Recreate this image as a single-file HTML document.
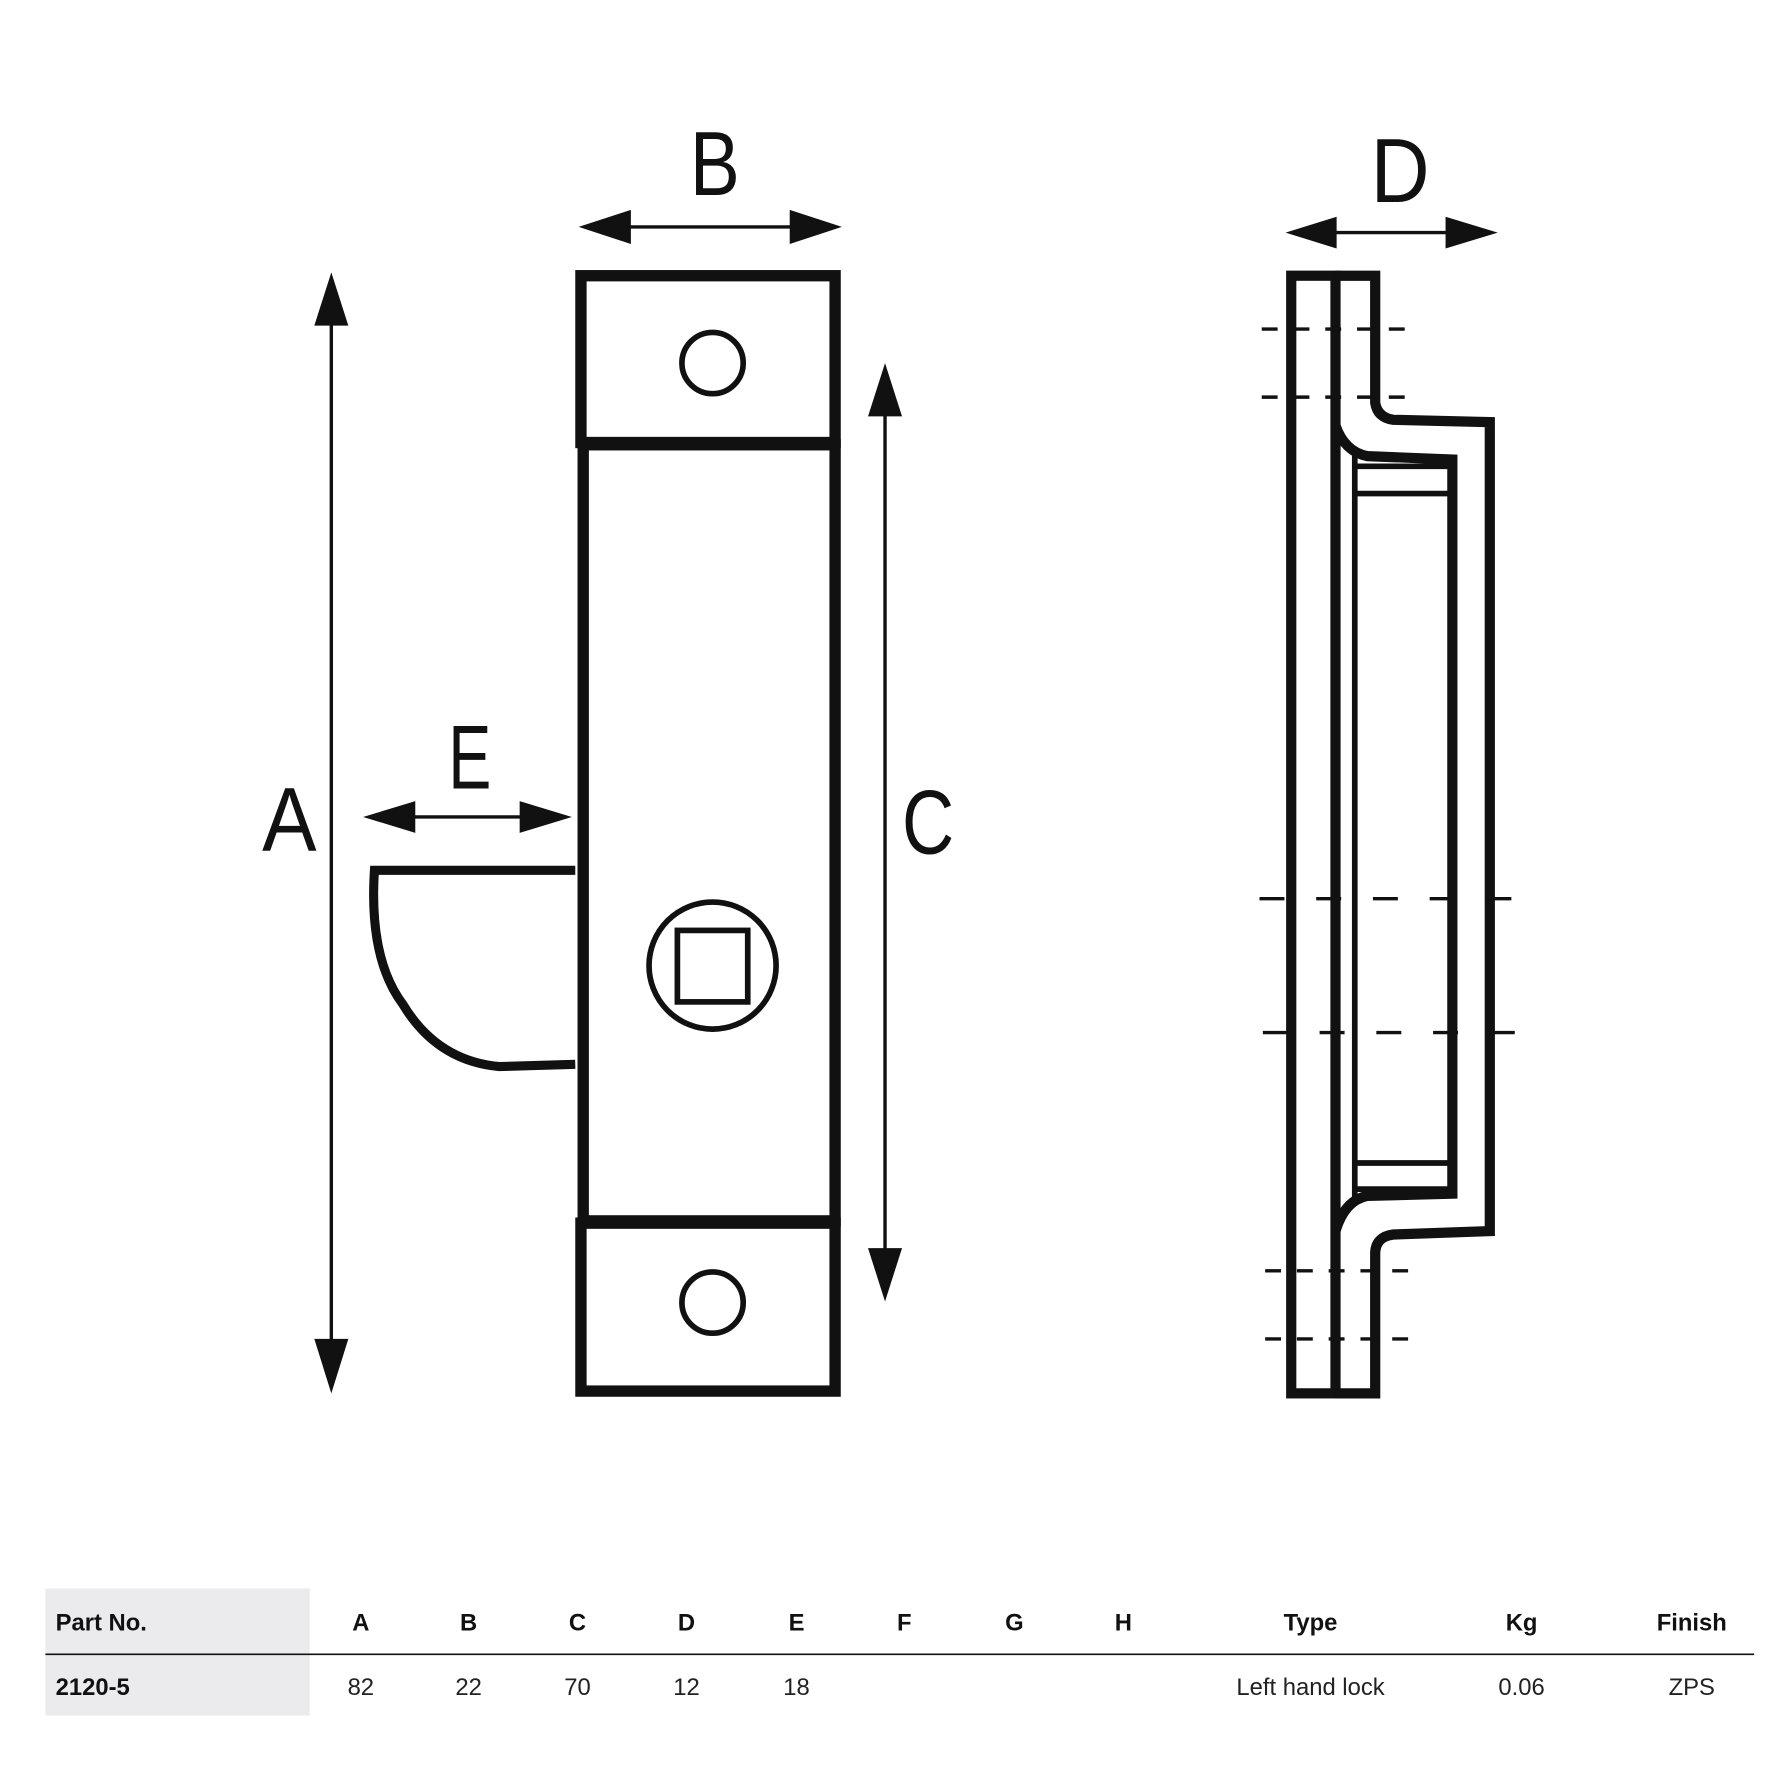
<!DOCTYPE html>
<html><head><meta charset="utf-8"><style>html,body{margin:0;padding:0;background:#fff}svg{display:block}</style></head>
<body>
<svg width="1778" height="1778" viewBox="0 0 1567 1567" xmlns="http://www.w3.org/2000/svg" font-family="Liberation Sans, sans-serif">
<rect width="1567" height="1567" fill="#fff"/>
<g stroke="#111" fill="none" stroke-width="10">
<rect x="512" y="243" width="224" height="147"/>
<rect x="514" y="392" width="222" height="684"/>
<rect x="512" y="1078" width="224" height="148"/>
</g>
<g stroke="#111" fill="none" stroke-width="5">
<circle cx="628" cy="320" r="27"/>
<circle cx="628" cy="1148" r="27"/>
<circle cx="628" cy="851" r="56"/>
<rect x="597" y="820" width="62" height="63"/>
</g>
<path d="M507 767 L330 767 Q325 845 355 885 Q385 935 440 940 L507 938" stroke="#111" stroke-width="8" fill="none"/>
<g stroke="#111" stroke-width="3">
<line x1="292" y1="270" x2="292" y2="1200"/>
<line x1="540" y1="200" x2="710" y2="200"/>
<line x1="780" y1="350" x2="780" y2="1115"/>
<line x1="350" y1="720" x2="475" y2="720"/>
<line x1="1165" y1="205" x2="1290" y2="205"/>
</g>
<g fill="#111">
<polygon points="292,240 277,287 307,287"/>
<polygon points="292,1228 277,1180 307,1180"/>
<polygon points="510,200 556,185 556,215"/>
<polygon points="742,200 696,185 696,215"/>
<polygon points="780,320 765,367 795,367"/>
<polygon points="780,1147 765,1100 795,1100"/>
<polygon points="320,720 366,706 366,734"/>
<polygon points="504,720 458,706 458,734"/>
<polygon points="1133,205 1178,191 1178,219"/>
<polygon points="1320,205 1274,191 1274,219"/>
</g>
<g fill="#111" font-size="80" text-anchor="middle">
<text x="255" y="750" textLength="48" lengthAdjust="spacingAndGlyphs">A</text>
<text x="630" y="172" textLength="44" lengthAdjust="spacingAndGlyphs">B</text>
<text x="818" y="752" textLength="46" lengthAdjust="spacingAndGlyphs">C</text>
<text x="414" y="695" textLength="38" lengthAdjust="spacingAndGlyphs">E</text>
<text x="1234" y="178" textLength="52" lengthAdjust="spacingAndGlyphs">D</text>
</g>
<g stroke="#111" fill="none" stroke-width="9">
<rect x="1138" y="243" width="39" height="985"/>
<path d="M1177 243 L1212 243 L1212 355 Q1214 368 1228 370 L1313 372 L1313 1085 L1228 1088 Q1212 1090 1212 1105 L1212 1228 L1177 1228"/>
<path d="M1177 375 Q1185 398 1205 402 L1280 405 L1280 1052 L1205 1054 Q1185 1058 1177 1085"/>
</g>
<g stroke="#111" fill="none" stroke-width="5">
<line x1="1194" y1="398" x2="1194" y2="1058"/>
<line x1="1195" y1="411" x2="1278" y2="411"/>
<line x1="1195" y1="435" x2="1278" y2="435"/>
<line x1="1195" y1="1025" x2="1278" y2="1025"/>
<line x1="1195" y1="1048" x2="1278" y2="1048"/>
</g>
<g stroke="#111" stroke-width="3" stroke-dasharray="14,14">
<line x1="1112" y1="290" x2="1252" y2="290"/>
<line x1="1112" y1="350" x2="1252" y2="350"/>
<line x1="1115" y1="1120" x2="1255" y2="1120"/>
<line x1="1115" y1="1180" x2="1255" y2="1180"/>
</g>
<g stroke="#111" stroke-width="3" stroke-dasharray="22,28">
<line x1="1110" y1="792" x2="1335" y2="792"/>
<line x1="1113" y1="910" x2="1338" y2="910"/>
</g>
<rect x="40" y="1400" width="233" height="112" fill="#ebebed"/>
<line x1="40" y1="1458" x2="1546" y2="1458" stroke="#111" stroke-width="1.5"/>
<g font-size="21" fill="#111" font-weight="bold">
<text x="49" y="1437">Part No.</text>
<text x="49" y="1494">2120-5</text>
<g text-anchor="middle">
<text x="318" y="1437">A</text><text x="413" y="1437">B</text><text x="509" y="1437">C</text>
<text x="605" y="1437">D</text><text x="702" y="1437">E</text><text x="797" y="1437">F</text>
<text x="894" y="1437">G</text><text x="990" y="1437">H</text><text x="1155" y="1437">Type</text>
<text x="1341" y="1437">Kg</text><text x="1491" y="1437">Finish</text>
</g></g>
<g font-size="21" fill="#222" text-anchor="middle">
<text x="318" y="1494">82</text><text x="413" y="1494">22</text><text x="509" y="1494">70</text>
<text x="605" y="1494">12</text><text x="702" y="1494">18</text>
<text x="1155" y="1494">Left hand lock</text><text x="1341" y="1494">0.06</text><text x="1491" y="1494">ZPS</text>
</g>
</svg>
</body></html>
